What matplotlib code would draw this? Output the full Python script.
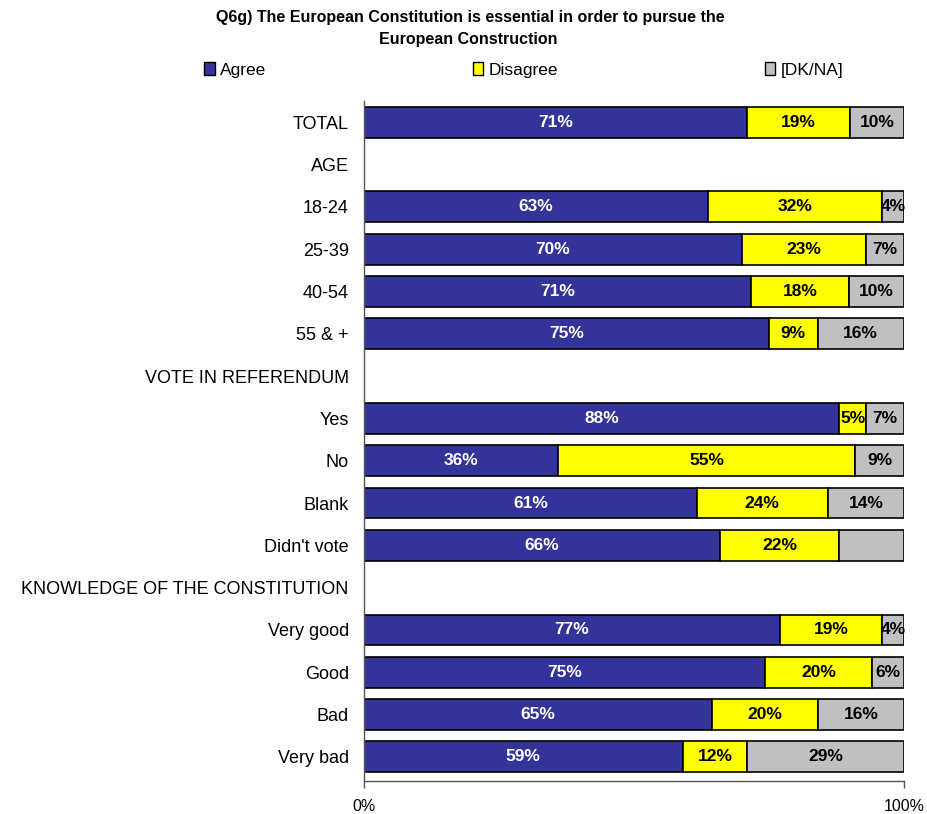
import numpy as np
import matplotlib.pyplot as plt
from matplotlib.patches import Patch

plt.rcParams['font.family'] = ['Liberation Sans', 'DejaVu Sans']

# rows top to bottom; header rows have no bar
rows = ["TOTAL", "AGE", "18-24", "25-39", "40-54", "55 & +",
        "VOTE IN REFERENDUM", "Yes", "No", "Blank", "Didn't vote",
        "KNOWLEDGE OF THE CONSTITUTION", "Very good", "Good", "Bad", "Very bad"]

agree    = [71, None, 63, 70, 71, 75, None, 88, 36, 61, 66, None, 77, 75, 65, 59]
disagree = [19, None, 32, 23, 18, 9, None, 5, 55, 24, 22, None, 19, 20, 20, 12]
dkna     = [10, None, 4, 7, 10, 16, None, 7, 9, 14, 12, None, 4, 6, 16, 29]
# the grey segment of "Didn't vote" carries no label in the original
dkna_shown = [True] * len(rows)
dkna_shown[10] = False

series_names = ["Agree", "Disagree", "[DK/NA]"]
colors = ["#333399", "#FFFF00", "#C0C0C0"]
text_colors = ["white", "black", "black"]

fig = plt.figure(figsize=(9.27, 8.14), dpi=100)
ax = fig.add_axes([0.3927, 0.0405, 0.5825, 0.8354])

y = np.arange(len(rows))
for i, row in enumerate(rows):
    if agree[i] is None:
        continue
    vals = [agree[i], disagree[i], dkna[i]]
    total = sum(vals)  # rounded labels may not add to 100; bars fill the row
    left = 0
    for j, v in enumerate(vals):
        w = v / total * 100
        ax.barh(y[i], w, left=left, height=0.73, color=colors[j],
                edgecolor="black", linewidth=1.2)
        if j < 2 or dkna_shown[i]:
            ax.text(left + w / 2, y[i], f"{v}%", ha="center", va="center",
                    color=text_colors[j], fontsize=12.5, fontweight="bold")
        left += w

ax.set_xlim(0, 100)
ax.set_ylim(15.57, -0.5)
ax.set_xticks([0, 100])
ax.set_xticklabels(["0%", "100%"], fontsize=11.5)
ax.tick_params(axis="x", length=5, width=1, color="#555555", pad=8, direction="out")

ax.set_yticks(y)
ax.set_yticklabels(rows, fontsize=13)
ax.tick_params(axis="y", length=0, pad=11)

for s in ["top", "right"]:
    ax.spines[s].set_visible(False)
for s in ["left", "bottom"]:
    ax.spines[s].set_linewidth(1.0)
    ax.spines[s].set_color("#555555")

fig.text(0.507, 0.978, "Q6g) The European Constitution is essential in order to pursue the",
         ha="center", va="center", fontsize=11.5, fontweight="bold")
fig.text(0.505, 0.951, "European Construction",
         ha="center", va="center", fontsize=11.5, fontweight="bold")

handles = [Patch(facecolor=c, edgecolor="black", linewidth=1.0) for c in colors]
fig.legend(handles, series_names, loc="center", bbox_to_anchor=(0.565, 0.914),
           ncol=3, frameon=False, fontsize=12.5, handlelength=0.6, handleheight=0.7,
           handletextpad=0.3, columnspacing=11.9)

plt.savefig("out.png", dpi=100)
